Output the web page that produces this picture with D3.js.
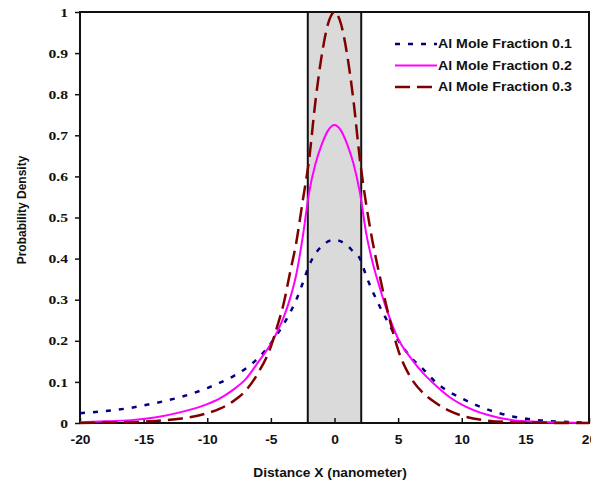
<!DOCTYPE html>
<html>
<head>
<meta charset="utf-8">
<script src="https://cdn.jsdelivr.net/npm/d3@7"></script>
<style>
  body { margin: 0; background: #fff; }
  svg { display: block; }
</style>
</head>
<body>
<svg width="591" height="489"></svg>
<script>
// distance along the structure (nm)
var xValues = [-20, -18, -16, -14, -12, -10, -9, -8, -7, -6, -5, -4.5, -4, -3.5, -3, -2.5, -2, -1.5, -1, -0.5,
  0, 0.5, 1, 1.5, 2, 2.5, 3, 3.5, 4, 4.5, 5, 6, 7, 8, 9, 10, 12, 14, 16, 18, 20];

// probability density
var frac01 = [0.024, 0.029, 0.037, 0.049, 0.064, 0.085, 0.098, 0.113, 0.132, 0.158, 0.194, 0.216, 0.240, 0.268, 0.300, 0.340, 0.383, 0.412, 0.430, 0.442,
  0.446, 0.442, 0.432, 0.416, 0.400, 0.357, 0.320, 0.287, 0.257, 0.228, 0.202, 0.160, 0.130, 0.098, 0.076, 0.060, 0.033, 0.016, 0.007, 0.003, 0.001];
var frac02 = [0.002, 0.004, 0.007, 0.014, 0.027, 0.046, 0.060, 0.080, 0.106, 0.148, 0.193, 0.222, 0.257, 0.302, 0.362, 0.452, 0.560, 0.630, 0.678, 0.712,
  0.725, 0.712, 0.678, 0.630, 0.560, 0.460, 0.390, 0.335, 0.285, 0.242, 0.205, 0.158, 0.120, 0.090, 0.064, 0.045, 0.020, 0.007, 0.003, 0.001, 0.000];
var frac03 = [0.000, 0.001, 0.002, 0.005, 0.011, 0.024, 0.035, 0.052, 0.078, 0.122, 0.186, 0.235, 0.290, 0.365, 0.440, 0.540, 0.640, 0.782, 0.895, 0.972,
  1.000, 0.972, 0.895, 0.782, 0.640, 0.530, 0.440, 0.365, 0.295, 0.232, 0.178, 0.110, 0.072, 0.048, 0.030, 0.018, 0.006, 0.002, 0.001, 0.000, 0.000];

var seriesNames = ["Al Mole Fraction 0.1", "Al Mole Fraction 0.2", "Al Mole Fraction 0.3"];
var wellEdges = [-2.1, 2.1];
var xTicks = [-20, -15, -10, -5, 0, 5, 10, 15, 20];
var yTicks = [0, 0.1, 0.2, 0.3, 0.4, 0.5, 0.6, 0.7, 0.8, 0.9, 1];
var yTickLabels = ["0", "0.1", "0.2", "0.3", "0.4", "0.5", "0.6", "0.7", "0.8", "0.9", "1"];

var styles = [
  { color: "#000080", width: 2.5, dash: "5,8" },
  { color: "#ff00ff", width: 2, dash: null },
  { color: "#800000", width: 2.5, dash: "15,7" }
];

var svg = d3.select("svg");
var plotLeft = 80, plotRight = 589, plotTop = 12, plotBottom = 423;

var x = d3.scaleLinear().domain([-20, 20]).range([plotLeft, plotRight]);
var y = d3.scaleLinear().domain([0, 1]).range([plotBottom, plotTop]);

// the source figure is a bit wider than tall, so text is stretched sideways
function stretch(sel, k) {
  sel.each(function() {
    var w = this.getComputedTextLength();
    d3.select(this).attr("textLength", w * k).attr("lengthAdjust", "spacingAndGlyphs");
  });
}

// shaded well region
svg.append("rect")
  .attr("x", x(wellEdges[0]))
  .attr("y", plotTop)
  .attr("width", x(wellEdges[1]) - x(wellEdges[0]))
  .attr("height", plotBottom - plotTop)
  .attr("fill", "#dadada")
  .attr("stroke", "#111")
  .attr("stroke-width", 2);

// plot frame
svg.append("rect")
  .attr("x", plotLeft)
  .attr("y", plotTop)
  .attr("width", plotRight - plotLeft)
  .attr("height", plotBottom - plotTop)
  .attr("fill", "none")
  .attr("stroke", "#111")
  .attr("stroke-width", 2);

// axes
var yAxis = svg.append("g")
  .attr("transform", "translate(" + plotLeft + ",0)")
  .call(d3.axisLeft(y).tickValues(yTicks).tickSize(5).tickPadding(7)
    .tickFormat(function(d, i) { return yTickLabels[i]; }));
yAxis.select(".domain").remove();
yAxis.selectAll("line").attr("stroke", "#111").attr("stroke-width", 1.5);
yAxis.selectAll("text")
  .attr("font-family", "'Liberation Serif', 'Times New Roman', serif")
  .attr("font-weight", "bold")
  .attr("font-size", 13)
  .attr("fill", "#111")
  .call(stretch, 1.2);

var xAxis = svg.append("g")
  .attr("transform", "translate(0," + plotBottom + ")")
  .call(d3.axisBottom(x).tickValues(xTicks).tickSize(-5).tickPadding(12)
    .tickFormat(function(d) { return String(d); }));
xAxis.select(".domain").remove();
xAxis.selectAll("line").attr("stroke", "#111").attr("stroke-width", 1.5);
xAxis.selectAll("text")
  .attr("font-family", "'Liberation Sans', Arial, sans-serif")
  .attr("font-weight", "bold")
  .attr("font-size", 12)
  .attr("fill", "#111")
  .call(stretch, 1.15);

// curves
var line = d3.line()
  .x(function(d) { return x(d[0]); })
  .y(function(d) { return y(d[1]); })
  .curve(d3.curveMonotoneX);

[frac01, frac02, frac03].forEach(function(vals, i) {
  var pts = xValues.map(function(xv, j) { return [xv, vals[j]]; });
  svg.append("path")
    .datum(pts)
    .attr("d", line)
    .attr("fill", "none")
    .attr("stroke", styles[i].color)
    .attr("stroke-width", styles[i].width)
    .attr("stroke-dasharray", styles[i].dash);
});

// legend
var legend = svg.append("g").attr("transform", "translate(395,44)");
seriesNames.forEach(function(name, i) {
  var row = legend.append("g").attr("transform", "translate(0," + (i * 21.5) + ")");
  row.append("line")
    .attr("x1", 0).attr("x2", 42)
    .attr("stroke", styles[i].color)
    .attr("stroke-width", styles[i].width)
    .attr("stroke-dasharray", styles[i].dash);
  row.append("text")
    .attr("x", 43)
    .attr("dy", "0.36em")
    .attr("font-family", "'Liberation Sans', Arial, sans-serif")
    .attr("font-weight", "bold")
    .attr("font-size", 12)
    .attr("fill", "#111")
    .text(name)
    .call(stretch, 1.18);
});

// axis titles
svg.append("text")
  .attr("x", 330)
  .attr("y", 477)
  .attr("text-anchor", "middle")
  .attr("font-family", "'Liberation Sans', Arial, sans-serif")
  .attr("font-weight", "bold")
  .attr("font-size", 12.5)
  .attr("fill", "#111")
  .text("Distance X (nanometer)")
  .call(stretch, 1.1);

svg.append("text")
  .attr("transform", "translate(26,210) rotate(-90)")
  .attr("text-anchor", "middle")
  .attr("font-family", "'Liberation Sans', Arial, sans-serif")
  .attr("font-weight", "bold")
  .attr("font-size", 12)
  .attr("fill", "#111")
  .text("Probability Density");
</script>
</body>
</html>
